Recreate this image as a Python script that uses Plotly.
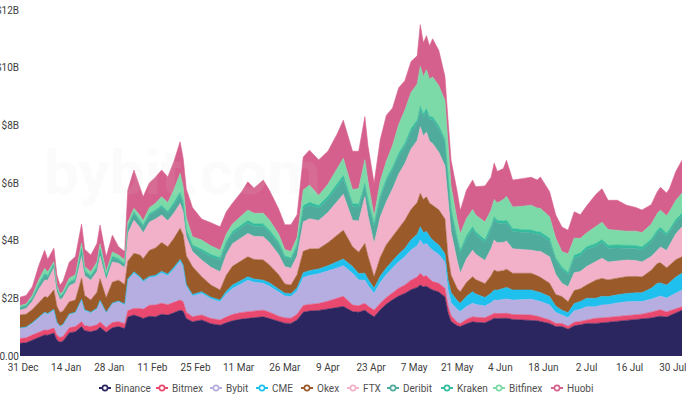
import plotly.graph_objects as go

# ---------------- data (values in $ billions) ----------------
dates = [
    "2020-12-30", "2021-01-01", "2021-01-03", "2021-01-05", "2021-01-07", "2021-01-08",
    "2021-01-10", "2021-01-11", "2021-01-12", "2021-01-13", "2021-01-15", "2021-01-17",
    "2021-01-19", "2021-01-20", "2021-01-22", "2021-01-24", "2021-01-25", "2021-01-27",
    "2021-01-29", "2021-01-31", "2021-02-02", "2021-02-03", "2021-02-05", "2021-02-07",
    "2021-02-08", "2021-02-10", "2021-02-12", "2021-02-14", "2021-02-16", "2021-02-18",
    "2021-02-20", "2021-02-21", "2021-02-22", "2021-02-24", "2021-02-27", "2021-03-02",
    "2021-03-05", "2021-03-07", "2021-03-09", "2021-03-12", "2021-03-14", "2021-03-16",
    "2021-03-19", "2021-03-21", "2021-03-24", "2021-03-26", "2021-03-28", "2021-03-30",
    "2021-04-01", "2021-04-03", "2021-04-06", "2021-04-09", "2021-04-12", "2021-04-14",
    "2021-04-17", "2021-04-19", "2021-04-21", "2021-04-22", "2021-04-24", "2021-04-26",
    "2021-04-28", "2021-04-30", "2021-05-02", "2021-05-04", "2021-05-06", "2021-05-08",
    "2021-05-09", "2021-05-10", "2021-05-11", "2021-05-12", "2021-05-13", "2021-05-15",
    "2021-05-17", "2021-05-18", "2021-05-19", "2021-05-21", "2021-05-22", "2021-05-24",
    "2021-05-26", "2021-05-27", "2021-05-30", "2021-06-01", "2021-06-02", "2021-06-03",
    "2021-06-05", "2021-06-06", "2021-06-08", "2021-06-11", "2021-06-14", "2021-06-16",
    "2021-06-17", "2021-06-20", "2021-06-22", "2021-06-24", "2021-06-26", "2021-06-28",
    "2021-06-30", "2021-07-02", "2021-07-05", "2021-07-07", "2021-07-09", "2021-07-12",
    "2021-07-15", "2021-07-18", "2021-07-20", "2021-07-23", "2021-07-25", "2021-07-26",
    "2021-07-28", "2021-07-29", "2021-07-31", "2021-08-02",
]

binance = [
    0.44, 0.46, 0.55, 0.65, 0.73, 0.72, 0.80, 0.55, 0.48, 0.52, 0.80, 0.84,
    1.02, 0.88, 0.84, 0.90, 1.00, 0.82, 0.98, 1.02, 0.95, 1.35, 1.42, 1.35,
    1.30, 1.38, 1.36, 1.45, 1.42, 1.50, 1.59, 1.55, 1.30, 1.19, 1.25, 1.12,
    1.07, 1.15, 1.22, 1.28, 1.31, 1.33, 1.36, 1.30, 1.20, 1.14, 1.13, 1.25,
    1.52, 1.56, 1.58, 1.62, 1.68, 1.72, 1.54, 1.52, 1.59, 1.50, 1.36, 1.60,
    1.80, 1.95, 2.08, 2.17, 2.30, 2.38, 2.46, 2.40, 2.42, 2.35, 2.29, 2.22,
    2.05, 1.50, 1.20, 1.05, 1.02, 1.12, 1.19, 1.17, 1.15, 1.25, 1.31, 1.30,
    1.30, 1.31, 1.27, 1.26, 1.25, 1.22, 1.20, 1.13, 1.02, 1.02, 0.93, 1.05,
    1.08, 1.13, 1.13, 1.15, 1.18, 1.22, 1.25, 1.27, 1.28, 1.32, 1.36, 1.38,
    1.35, 1.40, 1.50, 1.59,
]
bitmex = [
    0.17, 0.17, 0.18, 0.17, 0.17, 0.17, 0.17, 0.17, 0.16, 0.16, 0.18, 0.18,
    0.17, 0.17, 0.18, 0.18, 0.18, 0.17, 0.18, 0.17, 0.17, 0.22, 0.23, 0.30,
    0.32, 0.38, 0.41, 0.38, 0.36, 0.36, 0.35, 0.33, 0.22, 0.17, 0.17, 0.18,
    0.18, 0.20, 0.22, 0.23, 0.23, 0.23, 0.23, 0.22, 0.18, 0.18, 0.18, 0.20,
    0.23, 0.23, 0.24, 0.28, 0.33, 0.35, 0.23, 0.22, 0.24, 0.23, 0.23, 0.23,
    0.23, 0.25, 0.27, 0.29, 0.33, 0.36, 0.41, 0.36, 0.36, 0.32, 0.29, 0.30,
    0.30, 0.25, 0.20, 0.12, 0.11, 0.15, 0.17, 0.17, 0.18, 0.17, 0.17, 0.17,
    0.17, 0.17, 0.17, 0.17, 0.17, 0.16, 0.15, 0.12, 0.11, 0.11, 0.10, 0.12,
    0.12, 0.12, 0.18, 0.17, 0.16, 0.17, 0.17, 0.17, 0.17, 0.20, 0.23, 0.22,
    0.18, 0.17, 0.14, 0.12,
]
bybit = [
    0.35, 0.36, 0.40, 0.50, 0.59, 0.55, 0.62, 0.43, 0.38, 0.40, 0.45, 0.47,
    0.75, 0.52, 0.47, 0.55, 0.72, 0.50, 0.65, 0.69, 0.65, 1.05, 1.22, 1.05,
    0.95, 0.95, 0.98, 1.05, 1.00, 1.15, 1.34, 1.20, 0.90, 0.72, 0.75, 0.68,
    0.63, 0.80, 0.90, 1.00, 1.09, 1.00, 0.93, 0.90, 0.82, 0.76, 0.75, 0.80,
    0.97, 1.00, 1.03, 1.04, 1.04, 1.06, 1.10, 0.90, 0.80, 0.72, 0.58, 0.72,
    0.80, 0.85, 0.92, 0.98, 1.05, 1.08, 1.15, 1.10, 1.12, 1.10, 1.09, 1.00,
    0.90, 0.55, 0.45, 0.45, 0.41, 0.45, 0.47, 0.45, 0.40, 0.43, 0.46, 0.46,
    0.48, 0.50, 0.50, 0.53, 0.55, 0.54, 0.54, 0.52, 0.38, 0.29, 0.30, 0.40,
    0.42, 0.46, 0.40, 0.45, 0.44, 0.45, 0.46, 0.45, 0.44, 0.45, 0.47, 0.48,
    0.48, 0.50, 0.55, 0.58,
]
cme = [
    0.02, 0.02, 0.02, 0.03, 0.03, 0.03, 0.03, 0.02, 0.02, 0.02, 0.03, 0.03,
    0.03, 0.03, 0.03, 0.03, 0.03, 0.03, 0.03, 0.03, 0.03, 0.05, 0.05, 0.05,
    0.05, 0.05, 0.05, 0.06, 0.06, 0.07, 0.07, 0.07, 0.06, 0.05, 0.06, 0.06,
    0.06, 0.10, 0.12, 0.12, 0.12, 0.11, 0.11, 0.12, 0.12, 0.10, 0.10, 0.12,
    0.17, 0.17, 0.17, 0.19, 0.22, 0.23, 0.23, 0.22, 0.24, 0.22, 0.18, 0.22,
    0.23, 0.25, 0.27, 0.29, 0.35, 0.40, 0.46, 0.42, 0.42, 0.38, 0.35, 0.33,
    0.30, 0.35, 0.35, 0.30, 0.29, 0.35, 0.40, 0.36, 0.30, 0.33, 0.35, 0.35,
    0.38, 0.40, 0.35, 0.33, 0.32, 0.31, 0.31, 0.29, 0.22, 0.17, 0.17, 0.25,
    0.27, 0.29, 0.29, 0.30, 0.28, 0.28, 0.29, 0.30, 0.30, 0.38, 0.46, 0.45,
    0.45, 0.48, 0.55, 0.58,
]
okex = [
    0.44, 0.44, 0.46, 0.50, 0.54, 0.56, 0.67, 0.55, 0.47, 0.46, 0.42, 0.42,
    0.73, 0.50, 0.42, 0.55, 0.75, 0.50, 0.72, 0.72, 0.68, 0.62, 0.64, 0.75,
    0.75, 0.90, 0.95, 1.00, 0.95, 1.00, 1.08, 1.05, 1.00, 0.97, 0.52, 0.42,
    0.35, 0.55, 0.65, 0.68, 0.69, 0.68, 0.70, 0.62, 0.50, 0.32, 0.30, 0.45,
    0.74, 0.75, 0.70, 0.80, 0.93, 1.00, 0.69, 0.74, 1.03, 0.80, 0.40, 0.65,
    0.80, 0.85, 0.92, 0.98, 1.05, 1.10, 1.16, 1.15, 1.20, 1.15, 1.21, 1.22,
    1.20, 0.80, 0.60, 0.42, 0.40, 0.48, 0.52, 0.50, 0.48, 0.60, 0.69, 0.65,
    0.63, 0.63, 0.58, 0.58, 0.58, 0.55, 0.53, 0.46, 0.40, 0.47, 0.38, 0.45,
    0.44, 0.46, 0.63, 0.62, 0.58, 0.58, 0.58, 0.57, 0.55, 0.62, 0.69, 0.70,
    0.60, 0.60, 0.60, 0.57,
]
ftx = [
    0.17, 0.20, 0.28, 0.45, 0.57, 0.60, 0.76, 0.50, 0.43, 0.47, 0.55, 0.60,
    0.74, 0.68, 0.69, 0.72, 0.78, 0.62, 0.70, 0.59, 0.58, 0.95, 1.15, 0.95,
    0.90, 0.98, 1.00, 0.95, 0.90, 0.88, 0.86, 0.80, 0.65, 0.52, 0.58, 0.62,
    0.63, 0.72, 0.78, 0.80, 0.81, 0.80, 0.81, 0.78, 0.70, 0.60, 0.58, 0.65,
    1.02, 1.05, 0.98, 1.05, 1.15, 1.25, 0.92, 1.08, 1.62, 1.40, 1.15, 1.40,
    1.50, 1.65, 1.85, 1.97, 2.10, 2.15, 2.31, 2.20, 2.25, 2.15, 2.14, 2.00,
    1.85, 2.05, 1.50, 0.95, 0.64, 0.82, 0.92, 0.88, 0.80, 0.95, 1.04, 1.00,
    0.98, 0.98, 0.85, 0.82, 0.80, 0.85, 0.90, 0.92, 0.70, 0.46, 0.52, 0.62,
    0.60, 0.64, 0.64, 0.70, 0.62, 0.60, 0.58, 0.55, 0.52, 0.48, 0.46, 0.55,
    0.60, 0.70, 0.90, 1.04,
]
deribit = [
    0.08, 0.08, 0.10, 0.14, 0.18, 0.12, 0.10, 0.12, 0.11, 0.11, 0.10, 0.10,
    0.23, 0.14, 0.12, 0.14, 0.20, 0.12, 0.16, 0.11, 0.11, 0.22, 0.24, 0.22,
    0.22, 0.24, 0.25, 0.26, 0.26, 0.28, 0.29, 0.27, 0.20, 0.17, 0.29, 0.36,
    0.41, 0.37, 0.35, 0.35, 0.35, 0.34, 0.34, 0.34, 0.35, 0.30, 0.29, 0.32,
    0.46, 0.47, 0.42, 0.45, 0.50, 0.53, 0.48, 0.48, 0.36, 0.45, 0.60, 0.65,
    0.70, 0.65, 0.62, 0.59, 0.60, 0.60, 0.59, 0.65, 0.70, 0.75, 0.82, 0.82,
    0.82, 0.75, 0.70, 0.72, 0.70, 0.70, 0.71, 0.68, 0.62, 0.68, 0.71, 0.68,
    0.64, 0.62, 0.60, 0.60, 0.60, 0.58, 0.57, 0.54, 0.48, 0.48, 0.41, 0.50,
    0.55, 0.59, 0.53, 0.55, 0.48, 0.45, 0.42, 0.42, 0.42, 0.50, 0.60, 0.58,
    0.50, 0.45, 0.40, 0.37,
]
kraken = [
    0.03, 0.03, 0.03, 0.04, 0.05, 0.04, 0.04, 0.03, 0.03, 0.03, 0.04, 0.04,
    0.06, 0.04, 0.04, 0.04, 0.05, 0.04, 0.04, 0.04, 0.04, 0.05, 0.05, 0.05,
    0.05, 0.06, 0.06, 0.07, 0.07, 0.08, 0.10, 0.09, 0.07, 0.06, 0.08, 0.08,
    0.08, 0.08, 0.08, 0.09, 0.10, 0.10, 0.10, 0.09, 0.08, 0.07, 0.07, 0.08,
    0.10, 0.10, 0.10, 0.11, 0.12, 0.12, 0.10, 0.10, 0.10, 0.10, 0.09, 0.10,
    0.10, 0.10, 0.10, 0.10, 0.11, 0.11, 0.12, 0.11, 0.11, 0.10, 0.10, 0.10,
    0.10, 0.10, 0.09, 0.09, 0.09, 0.10, 0.10, 0.10, 0.10, 0.10, 0.10, 0.10,
    0.10, 0.10, 0.10, 0.10, 0.10, 0.10, 0.10, 0.10, 0.09, 0.09, 0.09, 0.10,
    0.10, 0.10, 0.10, 0.10, 0.10, 0.10, 0.10, 0.10, 0.10, 0.10, 0.10, 0.10,
    0.10, 0.10, 0.10, 0.10,
]
bitfinex = [
    0.04, 0.05, 0.08, 0.14, 0.18, 0.12, 0.08, 0.08, 0.07, 0.08, 0.13, 0.14,
    0.19, 0.14, 0.13, 0.15, 0.18, 0.12, 0.15, 0.13, 0.12, 0.12, 0.12, 0.15,
    0.15, 0.20, 0.24, 0.30, 0.30, 0.45, 0.66, 0.50, 0.40, 0.29, 0.32, 0.30,
    0.26, 0.26, 0.26, 0.32, 0.36, 0.36, 0.37, 0.35, 0.28, 0.22, 0.22, 0.25,
    0.55, 0.60, 0.35, 0.42, 0.53, 0.60, 0.48, 0.55, 0.83, 0.65, 0.25, 0.50,
    0.60, 0.75, 1.00, 1.16, 1.25, 1.25, 1.39, 1.30, 1.35, 1.30, 1.39, 1.39,
    1.35, 1.05, 0.80, 0.60, 0.58, 0.60, 0.60, 0.58, 0.62, 0.55, 0.60, 0.60,
    0.75, 0.83, 0.75, 0.80, 0.86, 0.82, 0.82, 0.75, 0.68, 0.53, 0.64, 0.60,
    0.50, 0.48, 0.58, 0.60, 0.55, 0.50, 0.48, 0.50, 0.50, 0.52, 0.58, 0.60,
    0.60, 0.62, 0.66, 0.70,
]
huobi = [
    0.30, 0.29, 0.30, 0.48, 0.63, 0.44, 0.47, 0.35, 0.30, 0.35, 0.55, 0.63,
    0.66, 0.60, 0.58, 0.64, 0.65, 0.52, 0.58, 0.29, 0.29, 1.12, 1.33, 0.93,
    0.83, 0.86, 0.90, 0.93, 0.89, 0.98, 1.09, 0.99, 1.00, 1.01, 0.73, 0.80,
    0.81, 0.77, 0.72, 0.83, 0.98, 0.87, 1.15, 1.03, 0.87, 0.86, 0.93, 0.78,
    1.14, 1.21, 1.23, 1.14, 1.20, 1.32, 1.33, 1.29, 1.49, 1.23, 1.15, 1.43,
    1.59, 1.30, 1.27, 1.02, 1.07, 0.98, 1.44, 1.17, 1.18, 1.15, 1.32, 1.22,
    0.83, 0.80, 0.90, 0.99, 0.81, 0.98, 1.02, 0.98, 1.25, 1.14, 1.26, 1.09,
    1.07, 1.25, 0.93, 0.96, 0.97, 0.97, 1.09, 0.87, 0.81, 0.85, 0.82, 0.91,
    0.82, 0.93, 1.12, 1.16, 1.01, 1.05, 0.90, 0.82, 0.78, 0.68, 0.75, 0.79,
    0.79, 0.80, 1.00, 1.14,
]

series_names = ["Binance", "Bitmex", "Bybit", "CME", "Okex", "FTX", "Deribit", "Kraken", "Bitfinex", "Huobi"]
series_values = [binance, bitmex, bybit, cme, okex, ftx, deribit, kraken, bitfinex, huobi]
series_colors = ["#2c2660", "#e9496e", "#b6aee0", "#1fc0ee", "#9b5a2a",
                 "#f2b1c9", "#4fab9c", "#33bd9c", "#7cdaa8", "#d6608d"]

x_tick_dates = ["2020-12-31", "2021-01-14", "2021-01-28", "2021-02-11", "2021-02-25",
                "2021-03-11", "2021-03-26", "2021-04-09", "2021-04-23", "2021-05-07",
                "2021-05-21", "2021-06-04", "2021-06-18", "2021-07-02", "2021-07-16",
                "2021-07-30"]
x_tick_labels = ["31 Dec", "14 Jan", "28 Jan", "11 Feb", "25 Feb", "11 Mar", "26 Mar",
                 "9 Apr", "23 Apr", "7 May", "21 May", "4 Jun", "18 Jun", "2 Jul",
                 "16 Jul", "30 Jul"]
y_tick_vals = [0, 2, 4, 6, 8, 10, 12]
y_tick_labels = ["$0.00", "$2B", "$4B", "$6B", "$8B", "$10B", "$12B"]

# ---------------- figure ----------------
W, H = 686, 408
ML, MR, MT, MB = 20, 4, 10, 52
PW, PH = W - ML - MR, H - MT - MB
FONT = "Roboto, Segoe UI, sans-serif"
FS = 10

fig = go.Figure()
for name, vals, col in zip(series_names, series_values, series_colors):
    fig.add_trace(go.Scatter(
        x=dates, y=vals, name=name, mode="lines", stackgroup="one",
        line=dict(width=0.6, color=col), fillcolor=col, showlegend=False,
    ))

# faint watermark
annotations = [dict(
    text="<b>bybit.com</b>", xref="paper", yref="paper",
    x=(182 - ML) / PW, y=(H - MB - 172) / PH, xanchor="center", yanchor="middle",
    showarrow=False,
    font=dict(size=62, family=FONT, color="rgba(215,215,215,0.10)"),
)]

# custom legend (short line + circle marker)
legend_px = [105, 162, 216, 262, 307, 353, 393, 447, 499, 557]
legend_py = 388
shapes = []
ly = (H - MB - legend_py) / PH
for name, col, px in zip(series_names, series_colors, legend_px):
    lx = (px - ML) / PW
    shapes.append(dict(type="line", xref="paper", yref="paper", xsizemode="pixel",
                       xanchor=lx, x0=-6, x1=6, y0=ly, y1=ly,
                       line=dict(color=col, width=2)))
    shapes.append(dict(type="circle", xref="paper", yref="paper",
                       xsizemode="pixel", ysizemode="pixel", xanchor=lx, yanchor=ly,
                       x0=-2.6, x1=2.6, y0=-2.6, y1=2.6,
                       fillcolor="white", line=dict(color=col, width=1.6)))
    annotations.append(dict(text=name, xref="paper", yref="paper",
                            x=(px + 8 - ML) / PW, y=ly, xanchor="left", yanchor="middle",
                            showarrow=False,
                            font=dict(size=FS, family=FONT, color="#505050")))

fig.update_layout(
    width=W, height=H,
    margin=dict(l=ML, r=MR, t=MT, b=MB, pad=0),
    paper_bgcolor="white", plot_bgcolor="white",
    showlegend=False,
    shapes=shapes, annotations=annotations,
    font=dict(family=FONT, size=FS, color="#404040"),
    xaxis=dict(type="date", range=["2020-12-30", "2021-08-02"],
               tickvals=x_tick_dates, ticktext=x_tick_labels,
               showgrid=False, zeroline=False, showline=False, ticks="",
               ticklabeloverflow="allow", ticklabelstandoff=4,
               tickfont=dict(size=FS, color="#404040"), automargin=False),
    yaxis=dict(range=[0, 12], tickvals=y_tick_vals, ticktext=y_tick_labels,
               showgrid=False, zeroline=False, showline=False, ticks="",
               ticklabeloverflow="allow",
               tickfont=dict(size=FS, color="#404040"), automargin=False),
)

fig.write_html("out.html", config={"displayModeBar": False},
               post_script="document.body.style.margin='0px';")
